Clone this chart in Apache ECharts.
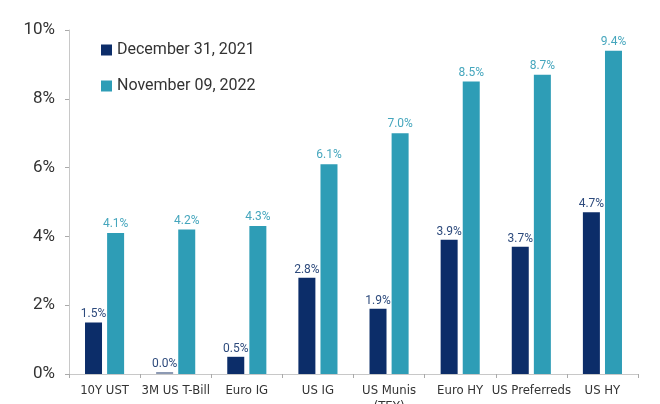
<!DOCTYPE html>
<html>
<head>
<meta charset="utf-8">
<script src="https://cdn.jsdelivr.net/npm/echarts@6/dist/echarts.min.js"></script>
<style>
  html, body { margin: 0; padding: 0; background: #fff; }
  #chart { width: 660px; height: 404px; }
</style>
</head>
<body>
<div id="chart"></div>
<script>
// Fixed income yields by asset class, two snapshot dates
const categories = ['10Y UST', '3M US T-Bill', 'Euro IG', 'US IG', 'US Munis\n(TEY)', 'Euro HY', 'US Preferreds', 'US HY'];
const dec2021 = [1.5, 0.0, 0.5, 2.8, 1.9, 3.9, 3.7, 4.7];
const nov2022 = [4.1, 4.2, 4.3, 6.1, 7.0, 8.5, 8.7, 9.4];
const yTicks = [0, 2, 4, 6, 8, 10];
const seriesNames = ['December 31, 2021', 'November 09, 2022'];

const navy = '#0c2d69';
const teal = '#2e9db6';
const narrowFont = "'Liberation Sans Narrow', 'DejaVu Sans Condensed', 'Roboto', sans-serif";

const chart = echarts.init(document.getElementById('chart'), null, { renderer: 'canvas' });

chart.setOption({
  animation: false,
  backgroundColor: '#ffffff',
  grid: { left: 69, right: 22, top: 30, bottom: 30, containLabel: false, outerBoundsMode: 'none' },
  legend: {
    orient: 'vertical',
    left: 96,
    top: 37,
    itemWidth: 11,
    itemHeight: 11,
    itemGap: 20,
    icon: 'rect',
    textStyle: { fontSize: 16, color: '#333', fontFamily: 'Roboto, sans-serif' },
    data: seriesNames
  },
  xAxis: {
    type: 'category',
    data: categories,
    axisLine: { lineStyle: { color: '#c8c8c8' } },
    axisTick: { show: true, alignWithLabel: false, length: 4, lineStyle: { color: '#aaa' } },
    axisLabel: {
      color: '#333',
      fontSize: 13,
      fontFamily: narrowFont,
      margin: 9,
      lineHeight: 16,
      interval: 0
    }
  },
  yAxis: {
    type: 'value',
    min: yTicks[0],
    max: yTicks[yTicks.length - 1],
    interval: 2,
    axisLine: { show: true, lineStyle: { color: '#c8c8c8' } },
    axisTick: { show: true, length: 4, lineStyle: { color: '#aaa' } },
    splitLine: { show: false },
    axisLabel: {
      color: '#333',
      fontSize: 17,
      fontFamily: 'Roboto, sans-serif',
      margin: 14,
      formatter: v => v + '%'
    }
  },
  series: [
    {
      name: seriesNames[0],
      type: 'bar',
      barWidth: 17,
      barGap: '30%',
      barMinHeight: 2,
      data: dec2021.map(v => v === 0 ? { value: v, itemStyle: { color: '#8d9ab3' } } : v),
      itemStyle: { color: navy },
      label: {
        show: true,
        position: 'top',
        distance: 2,
        color: '#2d4a7c',
        fontSize: 12,
        fontFamily: 'Roboto, sans-serif',
        formatter: p => p.value.toFixed(1) + '%'
      }
    },
    {
      name: seriesNames[1],
      type: 'bar',
      barWidth: 17,
      data: nov2022,
      itemStyle: { color: teal },
      label: {
        show: true,
        position: 'top',
        distance: 3,
        color: '#45a6bd',
        fontSize: 12,
        fontFamily: 'Roboto, sans-serif',
        formatter: p => p.value.toFixed(1) + '%'
      }
    }
  ]
});
</script>
</body>
</html>
